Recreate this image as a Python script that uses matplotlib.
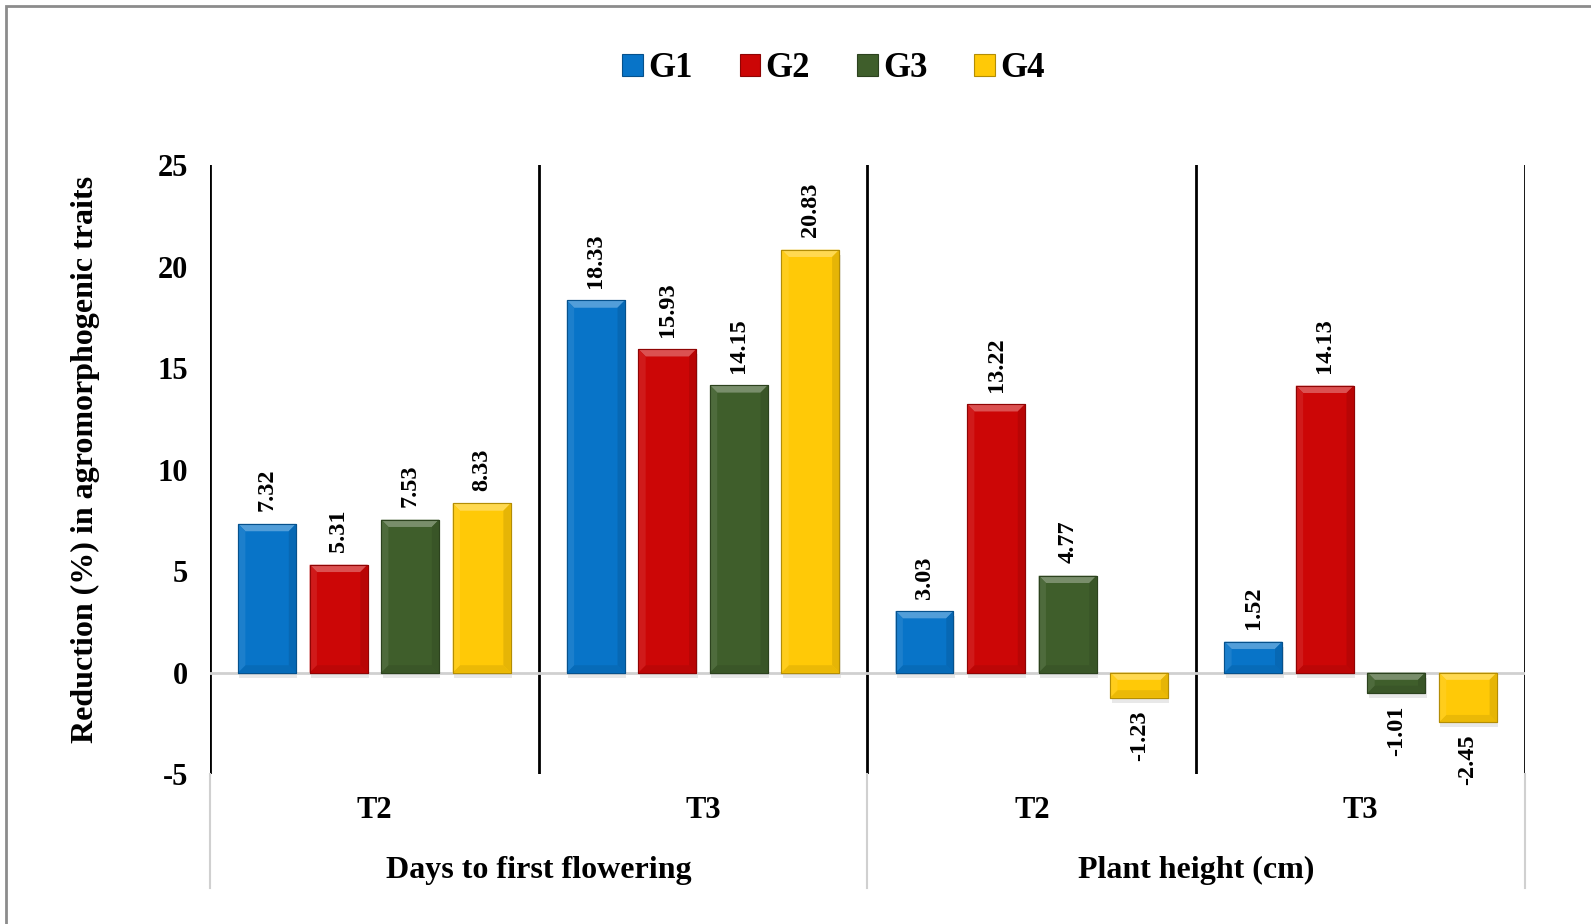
import matplotlib.pyplot as plt
import numpy as np
from matplotlib.colors import to_rgb
from matplotlib.patches import Polygon, Rectangle
from matplotlib.transforms import blended_transform_factory

plt.rcParams["font.family"] = ["Liberation Serif", "DejaVu Serif"]
plt.rcParams["font.weight"] = "bold"

treatments = ["T2", "T3", "T2", "T3"]
traits = ["Days to first flowering", "Plant height (cm)"]
genotypes = ["G1", "G2", "G3", "G4"]
g1 = [7.32, 18.33, 3.03, 1.52]
g2 = [5.31, 15.93, 13.22, 14.13]
g3 = [7.53, 14.15, 4.77, -1.01]
g4 = [8.33, 20.83, -1.23, -2.45]
colors = ["#0874C8", "#CC0606", "#3F5E2B", "#FFC907"]
yticks = [-5, 0, 5, 10, 15, 20, 25]


def mix(c, other, t):
    c = np.array(to_rgb(c))
    return tuple(c + (np.array(other) - c) * t)


def bevel(ax, rect, color, bx=0.022, by=0.36):
    x0, w = rect.get_x(), rect.get_width()
    y0, h = rect.get_y(), rect.get_height()
    lo, hi = min(y0, y0 + h), max(y0, y0 + h)
    bx = min(bx, w / 2)
    by = min(by, (hi - lo) / 2)
    x1 = x0 + w
    faces = [
        ([(x0, hi), (x1, hi), (x1 - bx, hi - by), (x0 + bx, hi - by)], mix(color, (1, 1, 1), 0.3)),
        ([(x0, lo), (x1, lo), (x1 - bx, lo + by), (x0 + bx, lo + by)], mix(color, (0, 0, 0), 0.08)),
        ([(x0, lo), (x0, hi), (x0 + bx, hi - by), (x0 + bx, lo + by)], mix(color, (1, 1, 1), 0.08)),
        ([(x1, lo), (x1, hi), (x1 - bx, hi - by), (x1 - bx, lo + by)], mix(color, (0, 0, 0), 0.1)),
    ]
    for pts, fc in faces:
        ax.add_patch(Polygon(pts, closed=True, facecolor=fc, edgecolor="none", zorder=3))
    ax.add_patch(Rectangle((x0, lo), w, hi - lo, facecolor="none",
                           edgecolor=mix(color, (0, 0, 0), 0.3), linewidth=0.8, zorder=4))


fig = plt.figure(figsize=(15.91, 9.24), dpi=100)
ax = fig.add_axes([0.132, 0.1623, 0.8265, 0.6591])

x = np.arange(len(treatments))
width = 0.176
step = 0.2176
series = [g1, g2, g3, g4]
handles = []
for i, (vals, col, name) in enumerate(zip(series, colors, genotypes)):
    pos = x + (i - 1.5) * step
    bars = ax.bar(pos, vals, width, color=col, label=name, zorder=2,
                  edgecolor=mix(col, (0, 0, 0), 0.3), linewidth=0.8)
    handles.append(bars)
    for rect, v in zip(bars, vals):
        # soft drop shadow under each bar
        ax.add_patch(Rectangle((rect.get_x() + 0.004, min(0, v) - 0.25), rect.get_width(),
                               abs(v), facecolor="#d9d9d9", edgecolor="none", zorder=1, alpha=0.6))
        bevel(ax, rect, col)
        off = 9 if v >= 0 else -9
        ax.annotate(f"{v:.2f}", (rect.get_x() + rect.get_width() / 2, v),
                    xytext=(0, off), textcoords="offset points", rotation=90,
                    ha="center", va="bottom" if v >= 0 else "top",
                    fontsize=17.5, fontweight="bold", zorder=5)

ax.set_xlim(-0.5, len(treatments) - 0.5)
ax.set_ylim(-5, 25)
ax.set_yticks(yticks)
ax.set_yticklabels([str(t) for t in yticks], fontsize=22, fontweight="bold")
ax.tick_params(axis="y", length=0, pad=16)
ax.set_xticks(x)
ax.set_xticklabels(treatments, fontsize=22, fontweight="bold")
ax.tick_params(axis="x", length=0, pad=16)
for s in ax.spines.values():
    s.set_visible(False)

ax.axhline(0, color="#d0d0d0", linewidth=2, zorder=1.5)
for b in np.arange(-0.5, len(treatments), 1.0):
    ax.axvline(b, color="black", linewidth=2, zorder=1)

trans = blended_transform_factory(ax.transData, ax.transAxes)
for b in [-0.5, 1.5, 3.5]:
    ax.plot([b, b], [0, -0.187], transform=trans, color="#d0d0d0",
            linewidth=1.5, clip_on=False)
for k, name in enumerate(traits):
    ax.text(2 * k + 0.5, -0.158, name, transform=trans, ha="center", va="center",
            fontsize=23, fontweight="bold")

ax.set_ylabel("Reduction (%) in agromorphogenic traits", fontsize=23,
              fontweight="bold")
ax.yaxis.set_label_coords(-0.084, 0.516)

fig.legend(handles=handles, loc="center", bbox_to_anchor=(0.524, 0.926), ncol=4,
           frameon=False, prop={"size": 25, "weight": "bold"},
           handlelength=0.6, handleheight=0.6, handletextpad=0.15, columnspacing=1.35)

# outer chart frame
fig.patches.append(Rectangle((0.0038, -0.1), 1.5, 1.0935, transform=fig.transFigure,
                             facecolor="none", edgecolor="#8c8c8c", linewidth=2))

fig.savefig("out.png", dpi=100)
